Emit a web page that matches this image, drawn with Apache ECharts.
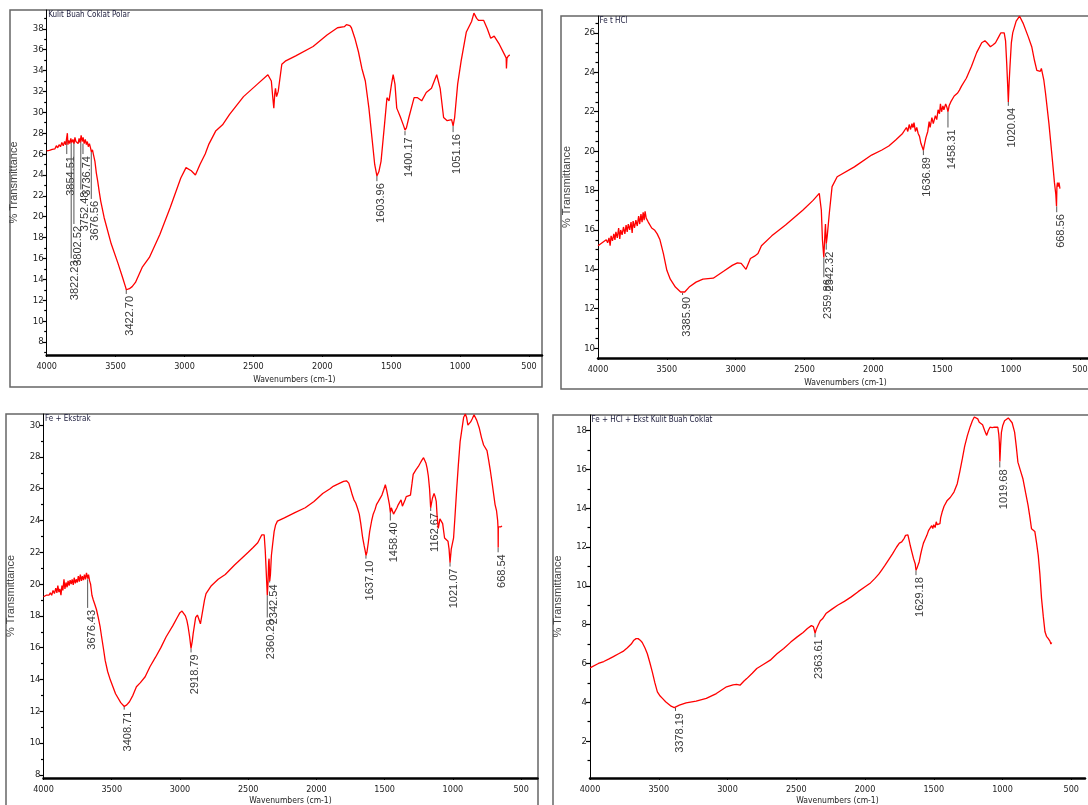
<!DOCTYPE html>
<html><head><meta charset="utf-8">
<script src="https://cdn.jsdelivr.net/npm/echarts@6/dist/echarts.min.js"></script>
<style>html,body{margin:0;padding:0;background:#fff}#c{width:1088px;height:805px}</style>
</head><body><div id="c"></div>
<script>
// ---------- text ----------
const panelTitles = ['Kulit Buah Coklat Polar', 'Fe t HCl', 'Fe + Ekstrak', 'Fe + HCl + Ekst Kulit Buah Coklat'];
const xAxisTitle = 'Wavenumbers (cm-1)';
const yAxisTitle = '% Transmittance';

// ---------- ticks ----------
const xTickValues = [4000, 3500, 3000, 2500, 2000, 1500, 1000, 500];
const yTicks1 = [8, 10, 12, 14, 16, 18, 20, 22, 24, 26, 28, 30, 32, 34, 36, 38];
const yMinor1 = [7, 9, 11, 13, 15, 17, 19, 21, 23, 25, 27, 29, 31, 33, 35, 37, 39];
const yTicks2 = [10, 12, 14, 16, 18, 20, 22, 24, 26];
const yMinor2 = [10.5, 11, 11.5, 12.5, 13, 13.5, 14.5, 15, 15.5, 16.5, 17, 17.5, 18.5, 19, 19.5, 20.5, 21, 21.5, 22.5, 23, 23.5, 24.5, 25, 25.5, 26.5];
const yTicks3 = [8, 10, 12, 14, 16, 18, 20, 22, 24, 26, 28, 30];
const yMinor3 = [9, 11, 13, 15, 17, 19, 21, 23, 25, 27, 29];
const yTicks4 = [2, 4, 6, 8, 10, 12, 14, 16, 18];
const yMinor4 = [1, 3, 5, 7, 9, 11, 13, 15, 17];

// ---------- spectrum 1: Kulit Buah Coklat Polar ----------
const polarWn = [4000,3990,3980,3970,3960,3950,3940,3930,3920,3910,3900,3890,3880,3870,3862,3855,3850,3846,3840,3832,3825,3818,3810,3802,3795,3788,3780,3772,3765,3758,3750,3743,3736,3728,3720,3712,3705,3698,3690,3682,3676,3668,3660,3650,3640,3630,3620,3608,3583,3532,3482,3450,3431,3422,3400,3380,3356,3305,3255,3179,3103,3027,2989,2951,2921,2888,2850,2825,2774,2724,2673,2572,2471,2395,2382,2370,2360,2352,2345,2340,2332,2320,2294,2269,2193,2067,1966,1890,1840,1825,1814,1800,1789,1764,1738,1713,1688,1662,1637,1620,1604,1590,1574,1549,1531,1516,1498,1486,1473,1460,1435,1410,1400,1390,1372,1334,1309,1279,1246,1208,1170,1145,1120,1094,1062,1051,1040,1018,993,955,917,900,892,880,866,829,803,778,753,715,677,666,664,660,650,640];
const polarT  = [26.3,26.4,26.35,26.5,26.45,26.6,26.5,26.8,26.6,26.9,26.7,27.1,26.8,27.2,26.9,27.0,28.0,26.9,27.3,27.0,27.5,27.1,27.4,27.0,27.6,27.2,27.3,27.0,27.5,27.1,27.8,27.2,27.6,27.0,27.4,26.9,27.2,26.7,27.0,26.6,26.2,26.4,25.9,25.3,24.2,23.4,22.5,21.5,19.9,17.4,15.5,14.2,13.4,13.0,13.1,13.3,13.7,15.2,16.1,18.3,20.9,23.7,24.7,24.4,24.0,25.0,26.0,26.9,28.2,28.8,29.8,31.5,32.7,33.6,33.7,33.0,31.5,30.4,31.8,32.3,31.5,32.0,34.6,34.9,35.4,36.3,37.4,38.1,38.2,38.4,38.3,38.3,38.1,37.1,35.8,34.2,33.0,30.4,27.2,25.0,23.9,24.3,25.3,28.8,31.4,31.1,32.7,33.6,32.7,30.4,29.6,28.7,28.3,28.5,29.5,31.4,31.4,31.1,31.9,32.3,33.6,32.3,29.5,29.2,29.3,28.7,29.5,32.7,34.9,37.7,38.7,39.5,39.6,39.0,38.8,38.8,38.0,37.1,37.3,36.5,35.5,35.2,34.2,35.2,35.4,35.5];
const polarPeakWn  = [3854.51, 3822.23, 3802.52, 3752.48, 3736.74, 3676.56, 3422.70, 1603.96, 1400.17, 1051.16];
const polarPeakTop = [27.4, 27.3, 27.3, 27.2, 27.0, 26.2, 13.0, 23.9, 28.2, 28.7];
const polarPeakEnd = [26.0, 16.0, 19.3, 22.6, 26.0, 21.7, 12.6, 23.4, 27.8, 28.1];

// ---------- spectrum 2: Fe t HCl ----------
const hclWn = [4000,3990,3980,3970,3960,3950,3940,3930,3920,3912,3905,3895,3885,3877,3870,3860,3850,3842,3835,3825,3815,3805,3796,3788,3780,3770,3760,3752,3745,3735,3725,3715,3705,3697,3688,3680,3672,3665,3658,3650,3642,3635,3625,3610,3590,3570,3550,3525,3500,3475,3438,3400,3386,3370,3338,3288,3238,3163,3088,3025,2988,2960,2950,2925,2893,2863,2838,2813,2738,2638,2513,2438,2393,2385,2378,2370,2360,2352,2348,2342,2335,2320,2300,2263,2138,2013,1938,1888,1838,1788,1760,1750,1740,1730,1720,1713,1705,1695,1685,1675,1665,1655,1645,1637,1630,1618,1605,1595,1588,1575,1565,1550,1540,1530,1520,1513,1505,1495,1488,1475,1465,1458,1450,1438,1425,1413,1400,1388,1375,1360,1350,1325,1288,1250,1213,1190,1175,1150,1130,1113,1090,1075,1050,1040,1032,1025,1020,1014,1008,998,988,963,938,925,913,875,850,830,813,800,788,780,775,762,750,725,700,685,680,675,670,667,663,658,652,645];
const hclT  = [15.2,15.25,15.3,15.25,15.4,15.3,15.5,15.35,15.6,15.2,15.7,15.45,15.8,15.5,15.9,15.6,16.1,15.55,16.0,15.75,16.15,15.8,16.25,15.9,16.3,16.0,16.4,15.85,16.45,16.1,16.5,16.2,16.7,16.3,16.8,16.4,16.9,16.5,16.95,16.6,16.7,16.4,16.3,16.1,16.0,15.8,15.5,14.8,13.95,13.5,13.1,12.85,12.8,12.85,13.1,13.35,13.5,13.55,13.9,14.2,14.33,14.3,14.2,14.0,14.55,14.67,14.8,15.2,15.7,16.25,17.0,17.5,17.86,17.8,17.0,15.5,14.6,15.8,16.3,15.3,15.7,16.85,18.2,18.7,19.2,19.8,20.06,20.26,20.57,20.9,21.2,21.0,21.35,21.1,21.4,21.2,21.45,21.0,21.2,20.9,20.75,20.4,20.5,20.05,20.3,20.7,21.0,21.5,21.2,21.7,21.4,21.8,21.6,22.1,21.9,22.4,22.0,22.3,22.1,22.4,22.2,22.0,22.3,22.5,22.6,22.8,22.85,22.95,23.1,23.3,23.35,23.7,24.3,25.0,25.5,25.6,25.5,25.3,25.4,25.5,25.8,26.0,26.0,25.6,24.5,23.4,22.5,23.5,24.3,25.5,26.0,26.6,26.85,26.8,26.5,25.8,25.3,24.6,24.1,24.0,24.05,24.2,24.15,23.6,22.95,21.4,19.55,18.4,18.3,17.8,17.2,18.2,18.4,18.2,18.4,18.1];
const hclPeakWn  = [3385.90, 2359.86, 2342.32, 1636.89, 1458.31, 1020.04, 668.56];
const hclPeakTop = [12.8, 14.6, 15.3, 20.05, 22.0, 22.5, 17.2];
const hclPeakEnd = [12.7, 13.6, 15.0, 19.8, 21.2, 22.3, 16.9];

// ---------- spectrum 3: Fe + Ekstrak ----------
const ekstrakWn = [4000,3990,3980,3970,3960,3950,3940,3930,3920,3910,3902,3895,3887,3880,3872,3865,3858,3850,3843,3835,3827,3820,3812,3805,3797,3790,3782,3775,3767,3760,3752,3745,3737,3730,3722,3715,3707,3700,3692,3685,3676,3670,3662,3655,3645,3635,3625,3612,3599,3585,3574,3560,3548,3530,3510,3472,3434,3408,3390,3370,3345,3319,3290,3255,3220,3179,3140,3102,3051,3020,3000,2985,2974,2960,2949,2940,2929,2919,2910,2903,2885,2872,2860,2850,2845,2834,2820,2809,2770,2720,2668,2600,2541,2500,2464,2430,2400,2383,2375,2368,2360,2355,2350,2347,2342,2337,2330,2321,2310,2300,2286,2235,2158,2082,2018,1954,1900,1877,1840,1801,1780,1763,1750,1737,1725,1712,1700,1686,1675,1661,1650,1643,1637,1630,1620,1610,1595,1584,1570,1560,1546,1533,1520,1508,1495,1485,1474,1465,1458,1451,1444,1435,1423,1410,1400,1393,1380,1370,1362,1350,1342,1330,1311,1300,1291,1270,1253,1240,1227,1215,1209,1197,1189,1180,1171,1163,1150,1138,1130,1122,1115,1107,1095,1087,1075,1061,1036,1028,1021,1012,995,985,972,960,947,933,921,909,900,890,883,870,858,845,837,825,806,790,775,750,738,725,710,691,680,672,669,668,667,660,650,640];
const ekstrakT  = [19.2,19.25,19.3,19.35,19.3,19.45,19.3,19.6,19.4,19.75,19.45,19.9,19.5,19.7,19.3,19.9,19.6,20.3,19.7,20.1,19.8,20.2,19.9,20.25,20.0,20.3,19.95,20.4,20.05,20.3,20.1,20.5,20.15,20.6,20.2,20.5,20.25,20.6,20.3,20.7,20.35,20.6,20.2,20.0,19.3,19.0,18.75,18.4,17.9,17.3,16.67,15.9,15.2,14.5,13.96,13.1,12.54,12.3,12.4,12.6,13.0,13.54,13.8,14.17,14.8,15.4,16.0,16.67,17.4,17.9,18.2,18.3,18.2,18.0,17.7,17.3,16.67,15.95,16.4,16.9,17.9,18.05,18.0,17.5,17.6,18.3,19.0,19.4,19.9,20.3,20.6,21.2,21.67,22.0,22.3,22.6,23.1,23.1,22.1,20.8,19.3,20.0,21.4,21.6,20.2,20.6,21.8,22.5,23.3,23.7,23.96,24.17,24.5,24.8,25.2,25.7,26.0,26.15,26.3,26.46,26.5,26.35,26.0,25.6,25.3,25.1,24.8,24.4,23.8,22.9,22.4,22.1,21.8,22.0,22.6,23.3,24.0,24.4,24.7,25.0,25.2,25.3,25.6,25.9,26.25,25.9,25.4,25.0,24.5,24.8,24.7,24.4,24.5,24.8,25.0,25.1,25.3,24.9,24.8,25.3,25.5,25.4,25.6,26.3,26.9,27.2,27.4,27.6,27.8,27.95,27.9,27.6,27.3,26.8,26.0,24.8,25.4,25.7,25.5,25.2,24.2,23.5,24.1,24.2,23.8,22.9,22.7,22.2,21.35,22.2,22.9,24.2,26.0,27.5,28.96,29.8,30.5,30.7,30.5,30.0,29.9,30.2,30.4,30.65,30.7,30.3,29.8,29.2,28.75,28.4,27.8,27.1,26.2,25.0,24.6,24.0,23.5,22.3,23.6,23.6,23.6,23.65];
const ekstrakPeakWn  = [3676.43, 3408.71, 2918.79, 2360.28, 2342.54, 1637.10, 1458.40, 1162.67, 1021.07, 668.54];
const ekstrakPeakTop = [20.3, 12.3, 15.95, 19.3, 20.2, 21.8, 24.5, 24.8, 21.35, 22.3];
const ekstrakPeakEnd = [18.5, 12.1, 15.7, 17.9, 20.1, 21.6, 24.0, 24.6, 21.1, 22.0];

// ---------- spectrum 4: Fe + HCl + Ekst Kulit Buah Coklat ----------
const campuranWn = [4000,3939,3900,3865,3830,3792,3760,3730,3700,3681,3665,3650,3635,3620,3600,3583,3565,3547,3528,3510,3490,3473,3450,3436,3410,3387,3378,3350,3301,3228,3154,3081,3007,2960,2934,2920,2909,2880,2860,2820,2787,2740,2689,2640,2591,2540,2493,2450,2419,2390,2382,2375,2368,2363,2355,2341,2325,2309,2284,2240,2199,2150,2100,2050,2002,1960,1929,1900,1880,1855,1831,1800,1770,1750,1733,1715,1705,1696,1688,1679,1670,1659,1647,1635,1629,1620,1606,1596,1586,1575,1561,1550,1537,1525,1515,1507,1500,1490,1482,1475,1463,1455,1450,1439,1425,1402,1380,1353,1329,1310,1292,1275,1255,1235,1219,1205,1194,1180,1169,1145,1130,1115,1103,1091,1075,1059,1045,1034,1027,1023,1019,1014,1008,998,985,973,958,944,930,912,900,888,870,851,832,814,800,789,775,765,752,740,728,716,703,691,680,667,655,648,642];
const campuranT  = [5.77,6.0,6.1,6.22,6.35,6.5,6.62,6.8,7.0,7.2,7.28,7.28,7.2,7.08,6.8,6.5,6.05,5.57,5.0,4.54,4.32,4.2,4.03,3.94,3.8,3.73,3.72,3.85,3.97,4.06,4.2,4.45,4.8,4.9,4.92,4.95,4.88,5.1,5.22,5.5,5.74,5.95,6.17,6.5,6.77,7.1,7.37,7.6,7.8,7.95,7.97,7.9,7.7,7.55,7.75,7.97,8.2,8.3,8.57,8.8,9.0,9.2,9.43,9.7,9.94,10.15,10.37,10.6,10.8,11.05,11.31,11.65,12.0,12.2,12.26,12.45,12.6,12.5,12.62,12.34,12.05,11.74,11.4,11.14,10.8,10.95,11.23,11.6,11.9,12.2,12.43,12.6,12.86,12.95,13.1,12.95,13.15,13.0,13.3,13.15,13.25,13.2,13.5,13.8,14.1,14.4,14.55,14.83,15.26,15.9,16.55,17.2,17.75,18.2,18.5,18.7,18.74,18.6,18.43,18.3,18.0,17.75,18.0,18.17,18.15,18.17,18.2,18.17,17.8,17.4,16.4,17.2,17.9,18.26,18.5,18.6,18.65,18.64,18.4,17.92,17.2,16.37,15.95,15.5,14.8,14.14,13.5,12.94,12.85,12.8,12.2,11.57,10.6,9.34,8.4,7.63,7.4,7.28,7.15,7.0,7.08];
const campuranPeakWn  = [3378.19, 2363.61, 1629.18, 1019.68];
const campuranPeakTop = [3.72, 7.55, 10.8, 16.4];
const campuranPeakEnd = [3.55, 7.35, 10.55, 16.1];

// ---------- build ----------
const zip = (a, b) => a.map((v, i) => [v, b[i]]);
const zip3 = (a, b, c) => a.map((v, i) => [v, b[i], c[i]]);

const FONT = '"Liberation Sans", Arial, sans-serif';
const NARROW = '"Liberation Sans Narrow", "DejaVu Sans Condensed", "Arial Narrow", "Liberation Sans", sans-serif';
const panels = [
  { grid: { left: 46.7, top: 10, width: 495.3, height: 345 }, xMin: 406, yMin: 6.75, yMax: 39.8, ticks: yTicks1, minor: yMinor1,
    line: zip(polarWn, polarT), peaks: zip3(polarPeakWn, polarPeakTop, polarPeakEnd), title: panelTitles[0], yGap: 27, xGap: 20,
    frame: { x: 10, y: 10, width: 532, height: 377 } },
  { grid: { left: 598, top: 16, width: 495, height: 342 }, xMin: 405, yMin: 9.5, yMax: 26.86, ticks: yTicks2, minor: yMinor2,
    line: zip(hclWn, hclT), peaks: zip3(hclPeakWn, hclPeakTop, hclPeakEnd), title: panelTitles[1], yGap: 26, xGap: 20,
    frame: { x: 561, y: 16, width: 560, height: 373 } },
  { grid: { left: 43.5, top: 414, width: 494, height: 364 }, xMin: 380, yMin: 7.8, yMax: 30.7, ticks: yTicks3, minor: yMinor3,
    line: zip(ekstrakWn, ekstrakT), peaks: zip3(ekstrakPeakWn, ekstrakPeakTop, ekstrakPeakEnd), title: panelTitles[2], yGap: 27, xGap: 18,
    frame: { x: 6, y: 414, width: 532, height: 420 } },
  { grid: { left: 590, top: 415, width: 495, height: 363 }, xMin: 400, yMin: 0.1, yMax: 18.8, ticks: yTicks4, minor: yMinor4,
    line: zip(campuranWn, campuranT), peaks: zip3(campuranPeakWn, campuranPeakTop, campuranPeakEnd), title: panelTitles[3], yGap: 27, xGap: 18,
    frame: { x: 553, y: 415, width: 560, height: 420 } }
];

const grids = [], xAxes = [], yAxes = [], series = [], titles = [], graphics = [];
panels.forEach((p, i) => {
  grids.push(Object.assign({ containLabel: false, outerBoundsMode: 'none' }, p.grid));
  xAxes.push({
    type: 'value', gridIndex: i, min: p.xMin, max: 4000, inverse: true,
    name: xAxisTitle, nameLocation: 'middle', nameGap: p.xGap,
    nameTextStyle: { fontFamily: NARROW, fontSize: 8.5, color: '#222' },
    axisLine: { show: true, lineStyle: { color: '#000', width: 2.5 } },
    axisTick: { show: true, length: 2, customValues: xTickValues, lineStyle: { color: '#000' } },
    axisLabel: { customValues: xTickValues, formatter: v => String(v), fontFamily: NARROW, fontSize: 9, color: '#222', margin: 7, hideOverlap: false },
    splitLine: { show: false }
  });
  yAxes.push({
    type: 'value', gridIndex: i, min: p.yMin, max: p.yMax, position: 'left',
    name: yAxisTitle, nameLocation: 'middle', nameGap: p.yGap, nameRotate: 90,
    nameTextStyle: { fontFamily: FONT, fontSize: 11, color: '#444' },
    axisLine: { show: true, lineStyle: { color: '#000', width: 1 } },
    axisTick: { show: true, length: 4, customValues: p.ticks, lineStyle: { color: '#000', width: 1.2 } },
    axisLabel: { customValues: p.ticks, formatter: v => String(v), fontFamily: NARROW, fontSize: 9.5, color: '#222', margin: 3 },
    splitLine: { show: false }
  });
  yAxes.push({
    type: 'value', gridIndex: i, min: p.yMin, max: p.yMax, position: 'left',
    axisLine: { show: false },
    axisTick: { show: true, length: 2.5, customValues: p.minor, lineStyle: { color: '#000', width: 1.2 } },
    axisLabel: { show: false },
    splitLine: { show: false }
  });
  series.push({
    type: 'line', xAxisIndex: i, yAxisIndex: 2 * i, data: p.line, showSymbol: false, symbol: 'none',
    lineStyle: { color: '#ff0000', width: 1.3 }, animation: false, silent: true
  });
  series.push({
    type: 'custom', xAxisIndex: i, yAxisIndex: 2 * i, data: p.peaks, animation: false, silent: true,
    encode: { x: 0, y: [1, 2] },
    renderItem: function (params, api) {
      const wn = api.value(0);
      const a = api.coord([wn, api.value(1)]);
      const b = api.coord([wn, api.value(2)]);
      return {
        type: 'group',
        children: [
          { type: 'line', shape: { x1: a[0], y1: a[1], x2: b[0], y2: b[1] }, style: { stroke: '#555', lineWidth: 1 } },
          { type: 'text', x: b[0] + 4, y: b[1] + 2, rotation: Math.PI / 2,
            style: { text: wn.toFixed(2), fill: '#3a3a3a', font: '11px ' + FONT, align: 'right', verticalAlign: 'middle' } }
        ]
      };
    }
  });
  titles.push({
    text: p.title, left: p.grid.left + 1.5, top: p.grid.top + 1, padding: 0,
    textStyle: { fontFamily: NARROW, fontSize: 8, fontWeight: 'normal', color: '#1a1a3a' }
  });
  graphics.push({
    type: 'rect', shape: p.frame, z: -1,
    style: { fill: 'none', stroke: '#666', lineWidth: 1.5 }
  });
});

const chart = echarts.init(document.getElementById('c'), null, { renderer: 'canvas' });
chart.setOption({
  animation: false,
  backgroundColor: '#fff',
  title: titles,
  grid: grids,
  xAxis: xAxes,
  yAxis: yAxes,
  series: series,
  graphic: graphics
});
</script>
</body></html>
